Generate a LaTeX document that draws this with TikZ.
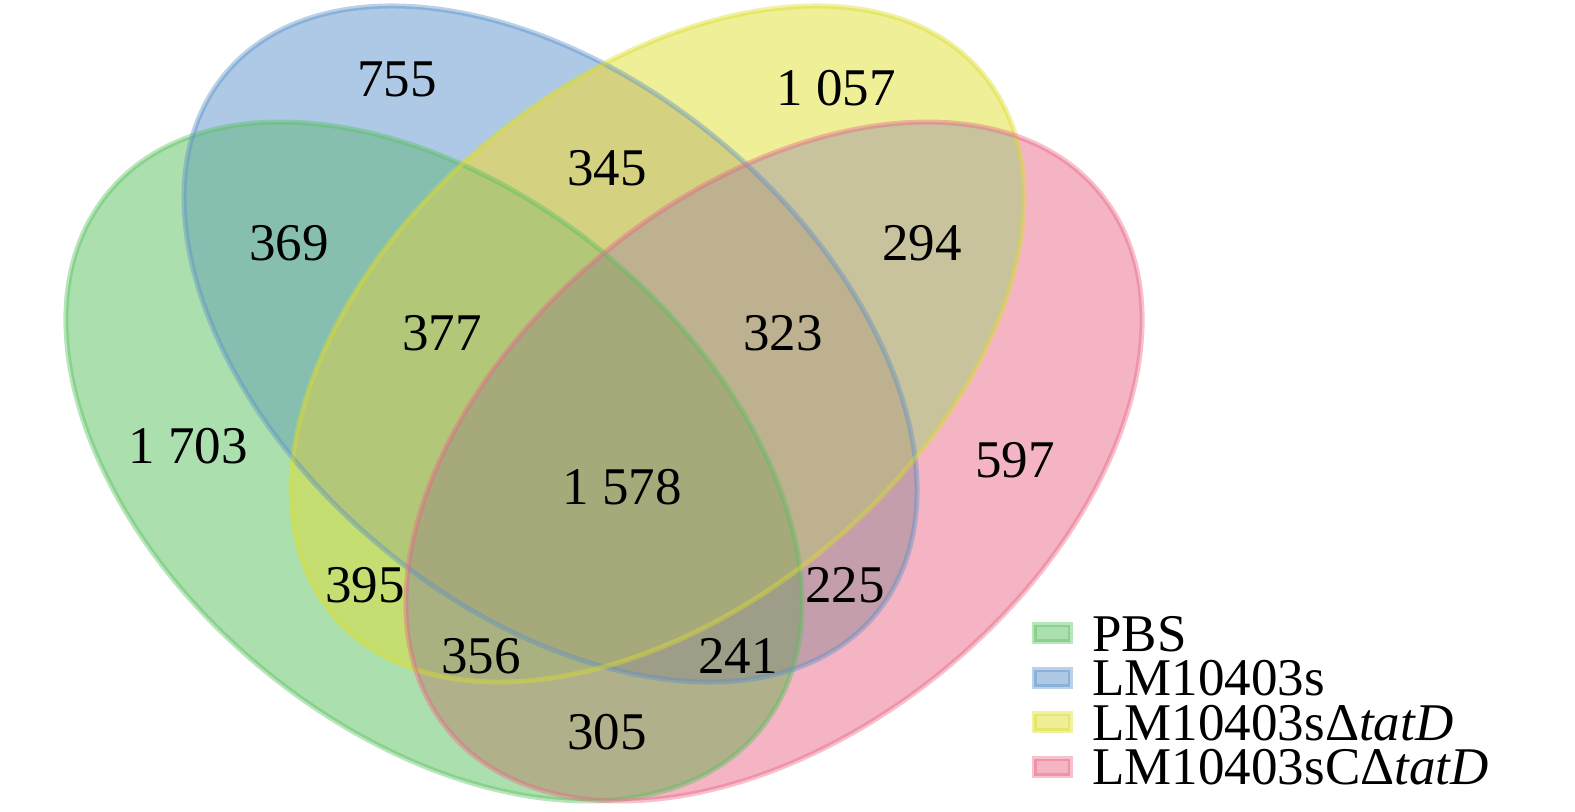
\documentclass[tikz,border=0pt]{standalone}
\usepackage{fontspec}
\setmainfont{Liberation Serif}
% stroke (base) colours
\definecolor{sG}{RGB}{89,193,95}
\definecolor{sB}{RGB}{91,145,201}
\definecolor{sY}{RGB}{219,221,45}
\definecolor{sR}{RGB}{233,105,133}
% region colours
\definecolor{cG}{RGB}{171,224,174}
\definecolor{cB}{RGB}{173,201,229}
\definecolor{cY}{RGB}{238,239,150}
\definecolor{cR}{RGB}{244,180,195}
\definecolor{cGB}{RGB}{134,191,175}
\definecolor{cGY}{RGB}{196,222,114}
\definecolor{cGR}{RGB}{176,176,139}
\definecolor{cBY}{RGB}{212,209,128}
\definecolor{cBR}{RGB}{196,158,170}
\definecolor{cYR}{RGB}{200,194,157}
\definecolor{cGBY}{RGB}{178,199,120}
\definecolor{cGBR}{RGB}{158,157,136}
\definecolor{cGYR}{RGB}{169,177,128}
\definecolor{cBYR}{RGB}{189,177,143}
\definecolor{cGBYR}{RGB}{166,170,123}
\newcommand\ellG[1]{#1[rotate around={-39.5:(434,461.5)}] (434,461.5) ellipse [x radius=211.15pt,y radius=134.5pt];}
\newcommand\ellB[1]{#1[rotate around={-39.7:(550.5,344)}] (550.5,344) ellipse [x radius=211.4pt,y radius=132.1pt];}
\newcommand\ellY[1]{#1[rotate around={39.7:(657.5,344)}] (657.5,344) ellipse [x radius=211.4pt,y radius=132.1pt];}
\newcommand\ellR[1]{#1[rotate around={39.5:(774,461.5)}] (774,461.5) ellipse [x radius=211.15pt,y radius=134.5pt];}
\newcommand\paintall[1]{\fill[#1] (0,0) rectangle (1575,812);}
\begin{document}
\begin{tikzpicture}[x=0.5pt,y=-0.5pt,
  edge/.style={draw=#1,draw opacity=0.42,line width=2.5pt},
  num/.style={font=\fontsize{26.5}{30}\selectfont,inner sep=0pt,text=black},
  legtext/.style={font=\fontsize{26.5}{30}\selectfont,inner sep=0pt,anchor=base west,text=black,text height=17.8pt,text depth=0pt},
  legbox/.style={fill=#1,minimum width=18pt,minimum height=8.5pt,inner sep=0pt}]
\useasboundingbox (0,0) rectangle (1575,812);
% single sets
\ellG{\fill[cG]}
\ellB{\fill[cB]}
\ellY{\fill[cY]}
\ellR{\fill[cR]}
% pairs
\begin{scope}\ellG{\clip}\ellB{\clip}\paintall{cGB}\end{scope}
\begin{scope}\ellG{\clip}\ellY{\clip}\paintall{cGY}\end{scope}
\begin{scope}\ellG{\clip}\ellR{\clip}\paintall{cGR}\end{scope}
\begin{scope}\ellB{\clip}\ellY{\clip}\paintall{cBY}\end{scope}
\begin{scope}\ellB{\clip}\ellR{\clip}\paintall{cBR}\end{scope}
\begin{scope}\ellY{\clip}\ellR{\clip}\paintall{cYR}\end{scope}
% triples
\begin{scope}\ellG{\clip}\ellB{\clip}\ellY{\clip}\paintall{cGBY}\end{scope}
\begin{scope}\ellG{\clip}\ellB{\clip}\ellR{\clip}\paintall{cGBR}\end{scope}
\begin{scope}\ellG{\clip}\ellY{\clip}\ellR{\clip}\paintall{cGYR}\end{scope}
\begin{scope}\ellB{\clip}\ellY{\clip}\ellR{\clip}\paintall{cBYR}\end{scope}
% all four
\begin{scope}\ellG{\clip}\ellB{\clip}\ellY{\clip}\ellR{\clip}\paintall{cGBYR}\end{scope}
% outlines
\ellG{\path[edge=sG]}
\ellB{\path[edge=sB]}
\ellY{\path[edge=sY]}
\ellR{\path[edge=sR]}
% counts
\node[num] (n755) at (397,79) {755};
\node[num] (n1057) at (836,88) {1 057};
\node[num] (n345) at (607,168) {345};
\node[num] (n369) at (289,243) {369};
\node[num] (n294) at (922,243) {294};
\node[num] (n377) at (442,333) {377};
\node[num] (n323) at (783,333) {323};
\node[num] (n1703) at (188,446) {1 703};
\node[num] (n597) at (1015,460) {597};
\node[num] (n1578) at (622,487) {1 578};
\node[num] (n395) at (365,585) {395};
\node[num] (n225) at (845,585) {225};
\node[num] (n356) at (481,656) {356};
\node[num] (n241) at (738,656) {241};
\node[num] (n305) at (607,732) {305};
% legend
\node[legbox=cG,edge=sG] (b1) at (1052,633) {};
\node[legbox=cB,edge=sB] (b2) at (1052,678) {};
\node[legbox=cY,edge=sY] (b3) at (1052,722) {};
\node[legbox=cR,edge=sR] (b4) at (1052,767) {};
\node[legtext] (t1) at (1092,651) {PBS};
\node[legtext] (t2) at (1092,695) {LM10403s};
\node[legtext] (t3) at (1092,740) {LM10403sΔ\textit{tatD}};
\node[legtext] (t4) at (1092,784) {LM10403sCΔ\textit{tatD}};
\end{tikzpicture}
\end{document}
